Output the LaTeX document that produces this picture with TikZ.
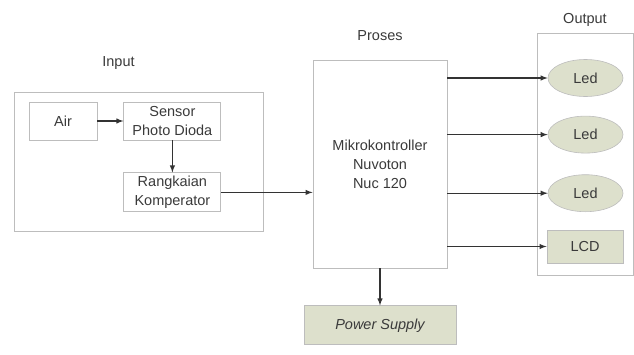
\documentclass[tikz,border=0pt]{standalone}
\usepackage{fontspec}
\setmainfont{Liberation Sans}
\usepackage{tikz}
\usetikzlibrary{shapes,arrows,positioning,calc}
\definecolor{boxline}{HTML}{BDBDBD}
\definecolor{boxfill}{HTML}{DDE0CC}
\definecolor{txt}{HTML}{3A3A3A}
\tikzstyle{frame} = [rectangle, draw=boxline, line width=0.9pt, inner sep=0pt]
\tikzstyle{block} = [rectangle, draw=boxline, line width=0.9pt, text centered, align=center, text=txt, font=\fontsize{14.5}{19}\selectfont, inner sep=0pt]
\tikzstyle{outled} = [ellipse, draw=boxline, fill=boxfill, line width=0.6pt, minimum width=75pt, minimum height=37pt, text=txt, font=\fontsize{14.5}{19}\selectfont, inner sep=0pt]
\tikzstyle{title} = [text=txt, font=\fontsize{14.5}{19}\selectfont]
\tikzstyle{arrow} = [line width=1.4pt, draw=black!80, ->, >=latex]

\begin{document}
\begin{tikzpicture}[x=1pt, y=-1pt, node distance=26pt]
  \useasboundingbox (0,0) rectangle (634,354);
  % proses
  \node (mikro) [block, minimum width=134pt, minimum height=208pt] at (380,164) {Mikrokontroller\\Nuvoton\\Nuc 120};
  \node (proses) [title, above = 15pt of mikro] {Proses};
  \node (power) [block, fill=boxfill, minimum width=152pt, minimum height=39pt, below = 37pt of mikro, font=\fontsize{14.5}{19}\selectfont\itshape] {Power Supply};
  % input
  \node (inbox) [frame, minimum width=249pt, minimum height=139pt] at (138.5,161.5) {};
  \node (input) [title, above = 19pt of inbox, xshift=-20pt] {Input};
  \node (air) [block, minimum width=68pt, minimum height=38pt] at (63,121) {Air};
  \node (sensor) [block, minimum width=97pt, minimum height=38pt, right = 26pt of air] {Sensor\\Photo Dioda};
  \node (komp) [block, minimum width=97pt, minimum height=39pt, below = 32pt of sensor] {Rangkaian\\Komperator};
  % output
  \node (outbox) [frame, minimum width=96pt, minimum height=242pt] at (585,154) {};
  \node (output) [title, above = 3pt of outbox] {Output};
  \node (led1) [outled] at (585.5,78) {Led};
  \node (led2) [outled, below = 19pt of led1] {Led};
  \node (led3) [outled, below = 21pt of led2] {Led};
  \node (lcd) [block, fill=boxfill, minimum width=76pt, minimum height=33pt] at (585,246.5) {LCD};

  \draw [arrow] (air) -- (sensor);
  \draw [arrow] (sensor) -- (komp);
  \draw [arrow] (komp.east) -- (komp.east -| mikro.west);
  \draw [arrow] (mikro.east |- led1) -- (led1.west);
  \draw [arrow] (mikro.east |- led2) -- (led2.west);
  \draw [arrow] (mikro.east |- led3) -- (led3.west);
  \draw [arrow] (mikro.east |- lcd) -- (lcd.west);
  \draw [arrow] (mikro) -- (power);
\end{tikzpicture}
\end{document}
